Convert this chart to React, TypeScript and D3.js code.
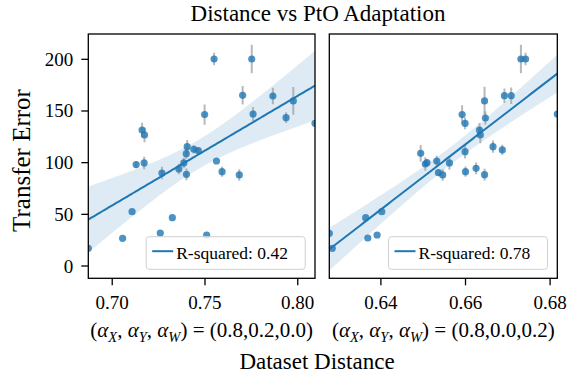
import React from "react";
import * as d3 from "d3";

// distances and transfer errors (30 runs per panel)
const leftDist = [
  0.6871, 0.7056, 0.7107, 0.7129, 0.7161, 0.7174, 0.7172, 0.7259, 0.7268, 0.7324,
  0.7359, 0.7386, 0.7399, 0.7404, 0.74, 0.744, 0.7464, 0.7498, 0.7509, 0.7549,
  0.7562, 0.7592, 0.7685, 0.7703, 0.7752, 0.7759, 0.7866, 0.7937, 0.7976, 0.8093,
];
const leftErr = [
  17.1, 26.8, 52.6, 98.1, 131.6, 126.8, 99.7, 31.9, 90.0, 46.8,
  93.9, 99.7, 108.7, 115.5, 88.7, 112.9, 111.6, 146.5, 30.0, 200.3,
  101.6, 91.3, 88.1, 165.2, 200.3, 147.1, 164.5, 143.5, 159.7, 138.1,
];
const leftCi = [
  0, 0, 0, 3, 7, 7, 6, 0, 6, 0,
  5, 5, 5, 6.5, 5.6, 4, 3, 9.7, 0, 6,
  0, 5, 5.6, 8.9, 13.7, 6.8, 8, 5.2, 13.4, 0,
];

const rightDist = [
  0.6278, 0.6285, 0.6364, 0.6369, 0.6391, 0.6402, 0.6494, 0.6505, 0.6509, 0.6532,
  0.6536, 0.6546, 0.6562, 0.6592, 0.6599, 0.6599, 0.66, 0.6625, 0.6633, 0.6635,
  0.6645, 0.6647, 0.6645, 0.6665, 0.6687, 0.6692, 0.6708, 0.6731, 0.6742, 0.6817,
];
const rightErr = [
  31.6, 17.1, 46.8, 27.1, 30.0, 52.6, 109.0, 98.7, 100.0, 101.6,
  90.3, 88.1, 99.7, 146.5, 138.0, 110.6, 91.3, 94.5, 131.6, 126.8,
  159.7, 143.2, 88.4, 115.5, 112.3, 164.8, 164.8, 200.3, 200.3, 147.1,
];
const rightCi = [
  0, 0, 0, 0, 0, 0, 8, 6.5, 3, 5,
  3, 5.6, 6.5, 9, 5.6, 6.5, 5, 5.6, 6.8, 8,
  13.7, 6.5, 5.6, 6, 5, 7, 8, 13.7, 6, 0,
];

const yTicks = [0, 50, 100, 150, 200];
const leftTicks = [0.7, 0.75, 0.8];
const rightTicks = [0.64, 0.66, 0.68];
const r2Labels = ["R-squared: 0.42", "R-squared: 0.78"];
const alphaValues = [
  ["0.8", "0.2", "0.0"],
  ["0.8", "0.0", "0.2"],
];

const W = 575;
const H = 375;
const TOP = 34;
const BOTTOM = 278.3;
const BLUE = "#1f77b4";
const FONT = "'Liberation Serif', 'DejaVu Serif', serif";
const T_CRIT = 2.048; // t(0.975, df=28)

const y = d3.scaleLinear().domain([-11.9, 224.5]).range([BOTTOM, TOP]);

function regression(xs: number[], ys: number[], x0: number, x1: number) {
  const n = xs.length;
  const mx = d3.mean(xs)!;
  const my = d3.mean(ys)!;
  const sxx = d3.sum(xs, (v) => (v - mx) ** 2);
  const sxy = d3.sum(xs, (v, i) => (v - mx) * (ys[i] - my));
  const b = sxy / sxx;
  const a = my - b * mx;
  const s = Math.sqrt(d3.sum(xs, (v, i) => (ys[i] - a - b * v) ** 2) / (n - 2));
  return d3.range(101).map((i) => {
    const xv = x0 + ((x1 - x0) * i) / 100;
    const yhat = a + b * xv;
    const se = s * Math.sqrt(1 / n + (xv - mx) ** 2 / sxx);
    return { x: xv, y: yhat, lo: yhat - T_CRIT * se, hi: yhat + T_CRIT * se };
  });
}

function Panel({ id, dist, err, ci, ticks, left, right, label, alphas, showY }: any) {
  const [d0, d1] = d3.extent(dist as number[]) as [number, number];
  const x = d3.scaleLinear().domain([d0, d1]).range([left, right]);
  const fit = regression(dist, err, d0, d1);
  const band = d3
    .area<any>()
    .x((d) => x(d.x))
    .y0((d) => y(d.lo))
    .y1((d) => y(d.hi));
  const line = d3
    .line<any>()
    .x((d) => x(d.x))
    .y((d) => y(d.y));
  const cx = (left + right) / 2;
  const legW = 159;
  const legH = 32.6;
  const legX = right - 9.8 - legW;
  const legY = BOTTOM - 9 - legH;
  const sub = { fontSize: 14.5, fontStyle: "italic" };

  return (
    <g>
      <clipPath id={id}>
        <rect x={left} y={TOP} width={right - left} height={BOTTOM - TOP} />
      </clipPath>
      <g clipPath={`url(#${id})`}>
        <path d={band(fit)!} fill={BLUE} fillOpacity={0.15} />
        {dist.map((d: number, i: number) =>
          ci[i] > 0 ? (
            <line
              key={"e" + i}
              x1={x(d)}
              x2={x(d)}
              y1={y(err[i] - ci[i])}
              y2={y(err[i] + ci[i])}
              stroke="#a0a0a0"
              strokeOpacity={0.75}
              strokeWidth={2}
            />
          ) : null
        )}
        {dist.map((d: number, i: number) => (
          <circle key={"p" + i} cx={x(d)} cy={y(err[i])} r={3.6} fill={BLUE} fillOpacity={0.8} />
        ))}
        <path d={line(fit)!} fill="none" stroke={BLUE} strokeWidth={2} />
      </g>
      <rect
        x={left}
        y={TOP}
        width={right - left}
        height={BOTTOM - TOP}
        fill="none"
        stroke="#000"
        strokeWidth={1.3}
      />
      {ticks.map((t: number) => (
        <g key={t}>
          <line x1={x(t)} x2={x(t)} y1={BOTTOM} y2={BOTTOM + 7} stroke="#000" strokeWidth={1.3} />
          <text x={x(t)} y={BOTTOM + 31} textAnchor="middle" fontSize={19}>
            {d3.format(".2f")(t)}
          </text>
        </g>
      ))}
      {showY &&
        yTicks.map((t) => (
          <g key={t}>
            <line x1={left - 7} x2={left} y1={y(t)} y2={y(t)} stroke="#000" strokeWidth={1.3} />
            <text x={left - 15} y={y(t) + 6.5} textAnchor="end" fontSize={19}>
              {t}
            </text>
          </g>
        ))}
      <rect
        x={legX}
        y={legY}
        width={legW}
        height={legH}
        rx={3}
        fill="#fff"
        fillOpacity={0.8}
        stroke="#d0d0d0"
        strokeWidth={1}
      />
      <line x1={legX + 6} x2={legX + 27} y1={legY + 14.5} y2={legY + 14.5} stroke={BLUE} strokeWidth={2} />
      <text x={legX + 30} y={legY + 22} fontSize={17.5}>
        {label}
      </text>
      <text x={cx} y={337} textAnchor="middle" fontSize={21}>
        (<tspan fontStyle="italic">α</tspan>
        <tspan {...sub} dy={4.5}>X</tspan>
        <tspan dy={-4.5}>, </tspan>
        <tspan fontStyle="italic">α</tspan>
        <tspan {...sub} dy={4.5}>Y</tspan>
        <tspan dy={-4.5}>, </tspan>
        <tspan fontStyle="italic">α</tspan>
        <tspan {...sub} dy={4.5}>W</tspan>
        <tspan dy={-4.5}>) = ({alphas.join(",")})</tspan>
      </text>
    </g>
  );
}

export default function App() {
  return (
    <svg
      width={W}
      height={H}
      style={{ position: "fixed", left: 0, top: 0, background: "#fff" }}
      fontFamily={FONT}
    >
      <text x={318} y={20.7} textAnchor="middle" fontSize={23}>
        Distance vs PtO Adaptation
      </text>
      <Panel
        id="clipL"
        dist={leftDist}
        err={leftErr}
        ci={leftCi}
        ticks={leftTicks}
        left={88.3}
        right={315}
        label={r2Labels[0]}
        alphas={alphaValues[0]}
        showY
      />
      <Panel
        id="clipR"
        dist={rightDist}
        err={rightErr}
        ci={rightCi}
        ticks={rightTicks}
        left={329.3}
        right={557.3}
        label={r2Labels[1]}
        alphas={alphaValues[1]}
        showY={false}
      />
      <text transform="translate(29.5,160.5) rotate(-90)" textAnchor="middle" fontSize={25}>
        Transfer Error
      </text>
      <text x={317} y={369} textAnchor="middle" fontSize={23}>
        Dataset Distance
      </text>
    </svg>
  );
}
